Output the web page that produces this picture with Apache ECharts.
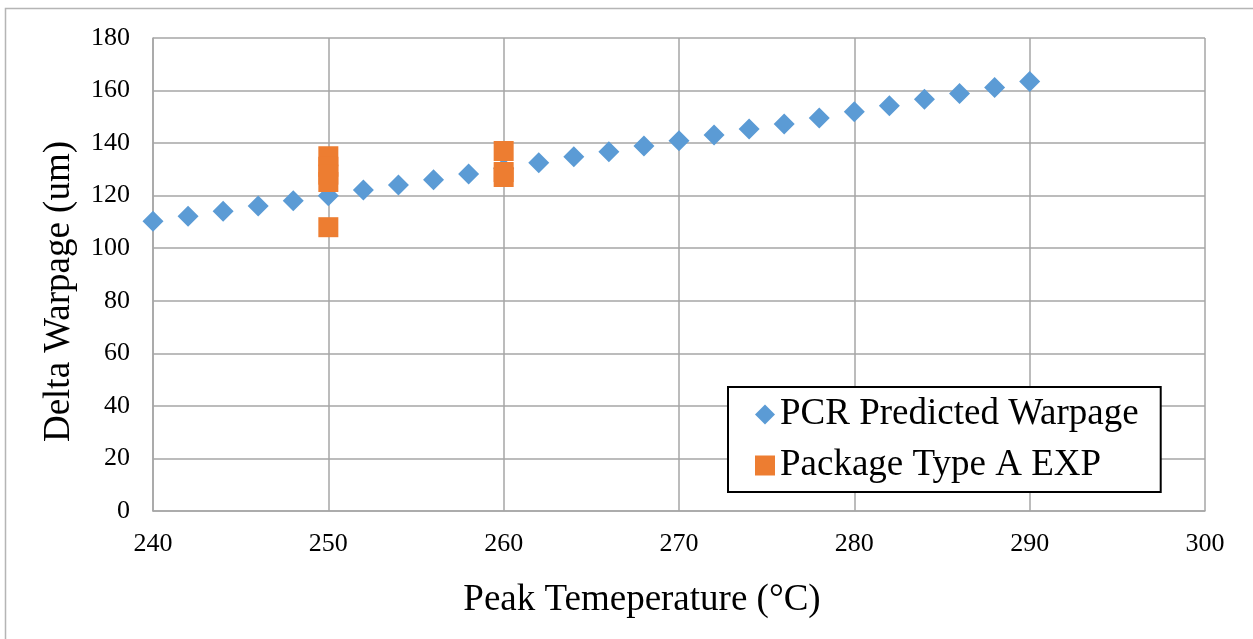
<!DOCTYPE html>
<html>
<head>
<meta charset="utf-8">
<script src="https://cdn.jsdelivr.net/npm/echarts@6/dist/echarts.min.js"></script>
<style>
html,body{margin:0;padding:0;background:#fff;}
#c{width:1253px;height:639px;}
</style>
</head>
<body>
<div id="c"></div>
<script>
const predTemps = [240,242,244,246,248,250,252,254,256,258,260,262,264,266,268,270,272,274,276,278,280,282,284,286,288,290];
const predWarp  = [110.3,112.2,114.1,116.1,118.1,120.0,122.2,124.1,126.1,128.2,130.3,132.5,134.8,136.7,138.9,140.9,143.1,145.4,147.3,149.6,151.9,154.2,156.7,158.9,161.2,163.4];
const expTemps = [250,250,250,250,250,260,260,260];
const expWarp  = [135,131,128,125.2,108,137,129,127.1];
const seriesNames = ['PCR Predicted Warpage','Package Type A EXP'];
const xTitle = 'Peak Temeperature (°C)';
const yTitle = 'Delta Warpage (um)';

const font = '"Liberation Serif","Times New Roman",serif';
const chart = echarts.init(document.getElementById('c'));
chart.setOption({
  animation:false,
  backgroundColor:'#fff',
  graphic:[{type:'rect',shape:{x:5.5,y:8.5,width:1400,height:800},style:{fill:'none',stroke:'#b5b5b5',lineWidth:1.5},silent:true,z:-1}],
  grid:{left:153,right:48,top:38,bottom:128},
  xAxis:{type:'value',min:240,max:300,interval:10,
    name:xTitle,nameLocation:'middle',nameGap:71,
    nameTextStyle:{fontFamily:font,fontSize:37,color:'#000',padding:[0,74,0,0]},
    axisLine:{show:true,lineStyle:{color:'#a6a6a6',width:1.5}},
    axisTick:{show:false},
    axisLabel:{fontFamily:font,fontSize:26,color:'#000',margin:20},
    splitLine:{show:true,lineStyle:{color:'#a6a6a6',width:1.5}}},
  yAxis:{type:'value',min:0,max:180,interval:20,
    name:yTitle,nameLocation:'middle',nameGap:75,
    nameTextStyle:{fontFamily:font,fontSize:37,color:'#000',padding:[0,34,0,0]},
    axisLine:{show:true,lineStyle:{color:'#a6a6a6',width:1.5}},
    axisTick:{show:false},
    axisLabel:{fontFamily:font,fontSize:26,color:'#000',margin:23},
    splitLine:{show:true,lineStyle:{color:'#a6a6a6',width:1.5}}},
  legend:{orient:'vertical',left:728,top:387,
    backgroundColor:'#fff',borderColor:'#000',borderWidth:2,borderRadius:0,
    padding:[9,22,8,27],itemGap:14,itemWidth:20,itemHeight:20,
    textStyle:{fontFamily:font,fontSize:37,color:'#000'},
    data:[{name:seriesNames[0],icon:'diamond'},{name:seriesNames[1],icon:'rect'}]},
  series:[
    {name:seriesNames[0],type:'scatter',symbol:'diamond',symbolSize:21,
     itemStyle:{color:'#5B9BD5',opacity:1},
     data:predTemps.map((t,i)=>[t,predWarp[i]])},
    {name:seriesNames[1],type:'scatter',symbol:'rect',symbolSize:20,
     itemStyle:{color:'#ED7D31',opacity:1},
     data:expTemps.map((t,i)=>[t,expWarp[i]])}
  ]
});
</script>
</body>
</html>
